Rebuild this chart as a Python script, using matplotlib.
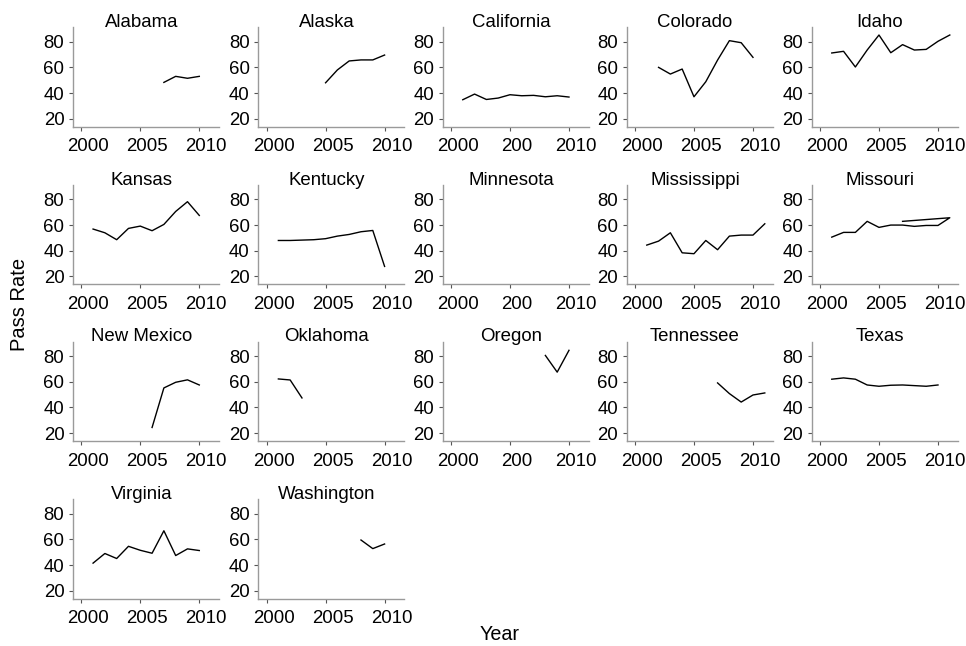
import matplotlib
matplotlib.use("Agg")
import matplotlib.pyplot as plt
from matplotlib.transforms import ScaledTranslation

plt.rcParams['font.family'] = ['Liberation Sans', 'DejaVu Sans']

# ---- data ----
states = ["Alabama", "Alaska", "California", "Colorado", "Idaho",
          "Kansas", "Kentucky", "Minnesota", "Mississippi", "Missouri",
          "New Mexico", "Oklahoma", "Oregon", "Tennessee", "Texas",
          "Virginia", "Washington"]

alabama_years = [2007, 2008, 2009, 2010]
alabama_rates = [48.3, 53.0, 51.5, 53.0]

alaska_years = [2005, 2006, 2007, 2008, 2009, 2010]
alaska_rates = [48.0, 58.0, 65.0, 65.8, 65.8, 69.6]

california_years = [2001, 2002, 2003, 2004, 2005, 2006, 2007, 2008, 2009, 2010]
california_rates = [34.8, 39.2, 35.0, 36.1, 38.7, 37.9, 38.2, 37.1, 37.9, 36.9]

colorado_years = [2002, 2003, 2004, 2005, 2006, 2007, 2008, 2009, 2010]
colorado_rates = [60.0, 54.8, 58.7, 37.1, 48.8, 65.7, 80.8, 79.2, 67.8]

idaho_years = [2001, 2002, 2003, 2004, 2005, 2006, 2007, 2008, 2009, 2010, 2011]
idaho_rates = [71.2, 72.5, 60.3, 73.5, 85.2, 71.4, 77.7, 73.5, 74.0, 80.3, 85.2]

kansas_years = [2001, 2002, 2003, 2004, 2005, 2006, 2007, 2008, 2009, 2010]
kansas_rates = [56.9, 54.0, 48.6, 57.4, 59.2, 55.6, 60.5, 70.6, 78.2, 67.5]

kentucky_years = [2001, 2002, 2003, 2004, 2005, 2006, 2007, 2008, 2009, 2010]
kentucky_rates = [48.0, 48.0, 48.3, 48.6, 49.4, 51.4, 52.7, 54.8, 55.8, 27.8]

minnesota_years = []
minnesota_rates = []

mississippi_years = [2001, 2002, 2003, 2004, 2005, 2006, 2007, 2008, 2009, 2010, 2011]
mississippi_rates = [44.4, 47.5, 54.0, 38.4, 37.7, 48.0, 40.8, 51.4, 52.2, 52.2, 61.0]

missouri_years = [2001, 2002, 2003, 2004, 2005, 2006, 2007, 2008, 2009, 2010, 2011, 2007]
missouri_rates = [50.6, 54.3, 54.3, 62.9, 58.2, 60.0, 60.0, 59.0, 59.7, 59.7, 65.7, 62.9]

new_mexico_years = [2006, 2007, 2008, 2009, 2010]
new_mexico_rates = [24.4, 55.2, 59.6, 61.5, 57.5]

oklahoma_years = [2001, 2002, 2003]
oklahoma_rates = [62.2, 61.4, 47.4]

oregon_years = [2008, 2009, 2010]
oregon_rates = [80.5, 67.5, 84.5]

tennessee_years = [2007, 2008, 2009, 2010, 2011]
tennessee_rates = [59.1, 50.8, 44.2, 49.7, 51.3]

texas_years = [2001, 2002, 2003, 2004, 2005, 2006, 2007, 2008, 2009, 2010]
texas_rates = [62.0, 63.0, 62.0, 57.5, 56.5, 57.3, 57.5, 57.0, 56.5, 57.5]

virginia_years = [2001, 2002, 2003, 2004, 2005, 2006, 2007, 2008, 2009, 2010]
virginia_rates = [41.5, 49.0, 45.1, 54.6, 51.5, 49.2, 66.7, 47.4, 52.6, 51.3]

washington_years = [2008, 2009, 2010]
washington_rates = [59.5, 52.8, 56.4]

series = [
    (alabama_years, alabama_rates), (alaska_years, alaska_rates),
    (california_years, california_rates), (colorado_years, colorado_rates),
    (idaho_years, idaho_rates), (kansas_years, kansas_rates),
    (kentucky_years, kentucky_rates), (minnesota_years, minnesota_rates),
    (mississippi_years, mississippi_rates), (missouri_years, missouri_rates),
    (new_mexico_years, new_mexico_rates), (oklahoma_years, oklahoma_rates),
    (oregon_years, oregon_rates), (tennessee_years, tennessee_rates),
    (texas_years, texas_rates), (virginia_years, virginia_rates),
    (washington_years, washington_rates),
]

x_ticks = [2000, 2005, 2010]
x_labels = ["2000", "2005", "2010"]
x_labels_col3 = ["2000", "200", "2010"]
y_ticks = [20, 40, 60, 80]

# ---- layout ----
W, H = 966, 646
fig = plt.figure(figsize=(W / 100, H / 100), dpi=100)

col_left = [73, 258.3, 442.7, 626.7, 811.7]
row_top = [27.3, 185.0, 341.7, 499.3]
ax_w, ax_h = 146, 99.4

spine_col = "#9a9a9a"
tick_col = "#555555"
shift = ScaledTranslation(7 / 100, 0, fig.dpi_scale_trans)

for i, (name, (yrs, rates)) in enumerate(zip(states, series)):
    r, c = divmod(i, 5)
    left = col_left[c] / W
    bottom = 1 - (row_top[r] + ax_h) / H
    ax = fig.add_axes([left, bottom, ax_w / W, ax_h / H])
    ax.plot(yrs, rates, color="black", lw=1.0)
    ax.set_xlim(1999.3, 2011.67)
    ax.set_ylim(13.8, 91.2)
    ax.set_xticks(x_ticks)
    ax.set_xticklabels(x_labels_col3 if c == 2 else x_labels)
    ax.set_yticks(y_ticks)
    for s in ("top", "right"):
        ax.spines[s].set_visible(False)
    for s in ("left", "bottom"):
        ax.spines[s].set_color(spine_col)
        ax.spines[s].set_linewidth(1.0)
    ax.tick_params(axis="both", colors=tick_col, labelcolor="black",
                   labelsize=13.4, length=3.0, width=0.8)
    ax.tick_params(axis="y", pad=3.2)
    ax.tick_params(axis="x", pad=5.3)
    for lab in ax.get_xticklabels():
        lab.set_transform(lab.get_transform() + shift)
    ax.text(0.468, 1.005, name, transform=ax.transAxes, ha="center",
            va="baseline", fontsize=13.4)

fig.text(500 / W, 1 - 634 / H, "Year", ha="center", va="center", fontsize=14.2)
fig.text(20 / W, 1 - 304 / H, "Pass Rate", ha="center", va="center",
         rotation=90, fontsize=14.5)

fig.savefig("out.png", dpi=100)
